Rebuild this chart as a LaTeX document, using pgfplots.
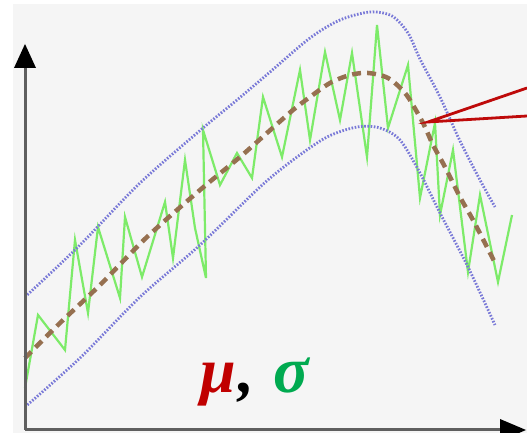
\documentclass[border=0pt]{standalone}
\usepackage{fontspec}
\newfontfamily\greekfont{Liberation Serif}
\usepackage{pgfplots}
\pgfplotsset{compat=1.18}

\definecolor{panel}{RGB}{245,245,245}
\definecolor{axisgray}{RGB}{95,95,95}
\definecolor{sample}{RGB}{125,235,105}
\definecolor{meanline}{RGB}{150,112,80}
\definecolor{band}{RGB}{120,120,215}
\definecolor{pointer}{RGB}{190,10,10}
\definecolor{muRed}{RGB}{192,0,0}
\definecolor{sigGreen}{RGB}{0,170,80}

\begin{document}
\begin{tikzpicture}
\path[use as bounding box] (0,0) rectangle (527pt,433pt);
\begin{axis}[
  at={(0,0)}, anchor=south west,
  width=527pt, height=433pt, scale only axis,
  xmin=0, xmax=527, ymin=0, ymax=433,
  axis lines=none, clip=false,
]
% panel background
\fill[white] (axis cs:0,0) rectangle (axis cs:527,433);
\fill[panel] (axis cs:13,0) rectangle (axis cs:527,429);

% noisy observations
\addplot[sample, line width=2.2pt, line join=miter] coordinates {
 (25,45) (38,118) (65,83) (75,193) (88,120) (98,206) (120,135) (125,216)
 (142,156) (165,231) (173,175) (185,273) (195,205) (206,155) (203,303)
 (220,248) (237,280) (252,255) (263,336) (282,276) (300,363) (310,293)
 (325,381) (340,313) (352,380) (367,276) (377,408) (388,305) (408,368)
 (420,235) (435,310) (440,218) (453,283) (468,161) (480,238) (498,151)
 (512,218)
};

% upper band
\addplot[band, line width=2.8pt, dash pattern=on 1.6pt off 1.6pt, smooth] coordinates {
 (25,136) (80,188) (140,250) (203,305) (237,333) (270,361) (310,395)
 (340,413) (370,421) (392,417) (408,400) (420,374) (440,336) (460,292)
 (480,253) (495,226)
};

% lower band
\addplot[band, line width=2.8pt, dash pattern=on 1.6pt off 1.6pt, smooth] coordinates {
 (25,26) (80,75) (140,136) (200,188) (260,246) (293,273) (327,296)
 (357,306) (380,305) (400,293) (420,260) (440,220) (468,166) (495,108)
};

% mean
\addplot[meanline, line width=4.5pt, dash pattern=on 9pt off 6pt, smooth] coordinates {
 (25,75) (60,110) (100,148) (147,196) (200,243) (240,276) (267,300)
 (293,323) (310,336) (330,350) (350,358) (368,360) (388,355) (405,340)
 (417,321) (425,306) (433,288) (445,266) (460,236) (473,213) (490,180)
 (496,168)
};

% pointer
\draw[pointer, line width=2.8pt, line join=miter]
  (axis cs:527,345) -- (axis cs:428,311) -- (axis cs:527,317);

% axes
\draw[axisgray, line width=3pt] (axis cs:25,366) -- (axis cs:25,3);
\draw[axisgray, line width=3pt] (axis cs:25,3) -- (axis cs:505,3);
\fill[black] (axis cs:14,365) -- (axis cs:25,389) -- (axis cs:36,365) -- cycle;
\fill[black] (axis cs:500,14) -- (axis cs:526,3) -- (axis cs:500,-8) -- cycle;

% labels
\node[anchor=base, text=muRed, font=\greekfont\bfseries\itshape\fontsize{64}{64}\selectfont] at (axis cs:218,40) {μ};
\node[anchor=base, text=black, font=\greekfont\bfseries\itshape\fontsize{64}{64}\selectfont] at (axis cs:246,40) {,};
\node[anchor=base, text=sigGreen, font=\greekfont\bfseries\itshape\fontsize{66}{66}\selectfont] at (axis cs:291,40) {σ};
\end{axis}
\end{tikzpicture}
\end{document}
